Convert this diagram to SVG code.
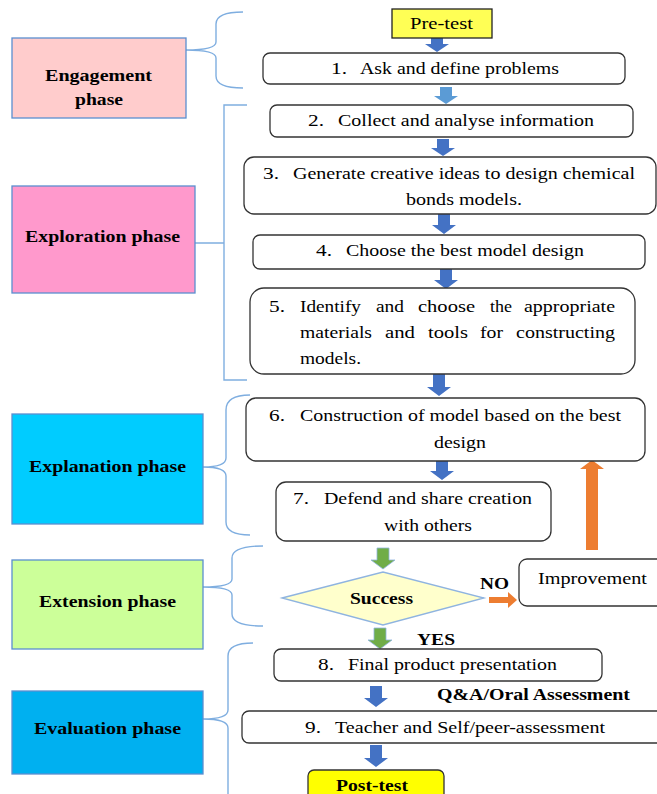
<svg xmlns="http://www.w3.org/2000/svg" width="657" height="794" viewBox="0 0 657 794">
<defs>
<style>
text{font-family:"Liberation Serif","Times New Roman","DejaVu Serif",serif;font-size:17px;fill:#000}
.b{font-weight:bold}
.box{fill:#fff;stroke:#333;stroke-width:1.3}
.ph{stroke:#5B8FD0;stroke-width:1.3}
.br{fill:none;stroke:#7FAEE0;stroke-width:1.4}
.ad{fill:#4472C4}
.al{fill:#5B9BD5}
.ag{fill:#70AD47;stroke:#8FB4E0;stroke-width:0.8}
.ao{fill:#ED7D31}
</style>
</defs>
<rect width="657" height="794" fill="#fff"/>

<g id="connectors">
<path class="ad" d="M431,38 H443 V44 H449 L437,52 L425,44 H431 Z"/>
<path class="al" d="M440,87 H452 V96 H458 L446,104 L434,96 H440 Z"/>
<path class="ad" d="M437,139 H449 V148 H455 L443,156 L431,148 H437 Z"/>
<path class="ad" d="M438,214 H450 V225 H456 L444,234 L432,225 H438 Z"/>
<path class="ad" d="M440,269 H452 V280 H458 L446,289 L434,280 H440 Z"/>
<path class="ad" d="M433,374 H445 V387 H451 L439,396 L427,387 H433 Z"/>
<path class="ad" d="M436,461 H448 V471 H454 L442,480 L430,471 H436 Z"/>
<path class="ag" d="M377,548 H389 V560 H395 L383,569 L371,560 H377 Z"/>
<path class="ag" d="M374,628 H386 V640 H392 L380,649 L368,640 H374 Z"/>
<path class="ad" d="M370,686 H382 V698 H388 L376,707 L364,698 H370 Z"/>
<path class="ad" d="M370,745 H382 V758 H388 L376,767 L364,758 H370 Z"/>
<path class="ao" d="M586,550 V469 H580 L592,460 L604,469 H598 V550 Z"/>
<path class="ao" d="M489,597 H508 V592 L517,600 L508,608 V603 H489 Z"/>
<path class="br" d="M243,12 Q216,12 216,24 L216,42 Q216,50 186,50 Q216,50 216,58 L216,76 Q216,88 243,88"/>
<path class="br" d="M247,105 L224,105 L224,380 L247,380 M195,243 L224,243"/>
<path class="br" d="M250,395 Q226,395 226,410 L226,458 Q226,467 203,467 Q226,467 226,476 L226,522 Q226,535 250,535"/>
<path class="br" d="M263,546 Q232,546 232,558 L232,579 Q232,587 203,587 Q232,587 232,595 L232,614 Q232,626 263,626"/>
<path class="br" d="M253,643 Q228,643 228,656 L228,710 Q228,719 203,719 Q228,719 228,728 L228,794"/>
</g>

<g id="engagement">
<rect class="ph" x="12" y="38" width="174" height="80" fill="#FFCCCC"/>
<text class="b" x="45" y="81" textLength="107" lengthAdjust="spacingAndGlyphs">Engagement</text>
<text class="b" x="75" y="105" textLength="48" lengthAdjust="spacingAndGlyphs">phase</text>
</g>
<g id="exploration">
<rect class="ph" x="12" y="186" width="183" height="107" fill="#FF99CC"/>
<text class="b" x="25" y="242" textLength="155" lengthAdjust="spacingAndGlyphs">Exploration phase</text>
</g>
<g id="explanation">
<rect class="ph" x="12" y="414" width="191" height="110" fill="#00CCFF"/>
<text class="b" x="29" y="472" textLength="157" lengthAdjust="spacingAndGlyphs">Explanation phase</text>
</g>
<g id="extension">
<rect class="ph" x="12" y="560" width="191" height="89" fill="#CCFF99"/>
<text class="b" x="39" y="607" textLength="137" lengthAdjust="spacingAndGlyphs">Extension phase</text>
</g>
<g id="evaluation">
<rect class="ph" x="12" y="691" width="191" height="83" fill="#00B0F0"/>
<text class="b" x="34" y="734" textLength="147" lengthAdjust="spacingAndGlyphs">Evaluation phase</text>
</g>

<g id="pretest">
<rect x="392" y="9" width="100" height="29" fill="#FFFF55" stroke="#222" stroke-width="1.3"/>
<text x="410" y="29" textLength="63" lengthAdjust="spacingAndGlyphs">Pre-test</text>
</g>
<g id="step1">
<rect class="box" x="263" y="53" width="362" height="31" rx="7"/>
<text x="331" y="74" textLength="16" lengthAdjust="spacingAndGlyphs">1.</text>
<text x="360" y="74" textLength="199" lengthAdjust="spacingAndGlyphs">Ask and define problems</text>
</g>
<g id="step2">
<rect class="box" x="270" y="105" width="363" height="32" rx="7"/>
<text x="308" y="126" textLength="16" lengthAdjust="spacingAndGlyphs">2.</text>
<text x="338" y="126" textLength="256" lengthAdjust="spacingAndGlyphs">Collect and analyse information</text>
</g>
<g id="step3">
<rect class="box" x="244" y="157" width="412" height="57" rx="10"/>
<text x="263" y="179" textLength="16" lengthAdjust="spacingAndGlyphs">3.</text>
<text x="293" y="179" textLength="342" lengthAdjust="spacingAndGlyphs">Generate creative ideas to design chemical</text>
<text x="406" y="205" textLength="116" lengthAdjust="spacingAndGlyphs">bonds models.</text>
</g>
<g id="step4">
<rect class="box" x="253" y="235" width="392" height="34" rx="7"/>
<text x="316" y="256" textLength="16" lengthAdjust="spacingAndGlyphs">4.</text>
<text x="346" y="256" textLength="238" lengthAdjust="spacingAndGlyphs">Choose the best model design</text>
</g>
<g id="step5">
<rect class="box" x="250" y="288" width="385" height="86" rx="14"/>
<text x="269" y="312" textLength="16" lengthAdjust="spacingAndGlyphs">5.</text>
<text x="300" y="312" textLength="61" lengthAdjust="spacingAndGlyphs">Identify</text>
<text x="376" y="312" textLength="28" lengthAdjust="spacingAndGlyphs">and</text>
<text x="418" y="312" textLength="57" lengthAdjust="spacingAndGlyphs">choose</text>
<text x="490" y="312" textLength="22" lengthAdjust="spacingAndGlyphs">the</text>
<text x="524" y="312" textLength="91" lengthAdjust="spacingAndGlyphs">appropriate</text>
<text x="300" y="338" textLength="72" lengthAdjust="spacingAndGlyphs">materials</text>
<text x="385" y="338" textLength="30" lengthAdjust="spacingAndGlyphs">and</text>
<text x="428" y="338" textLength="40" lengthAdjust="spacingAndGlyphs">tools</text>
<text x="480" y="338" textLength="23" lengthAdjust="spacingAndGlyphs">for</text>
<text x="516" y="338" textLength="99" lengthAdjust="spacingAndGlyphs">constructing</text>
<text x="300" y="364" textLength="61" lengthAdjust="spacingAndGlyphs">models.</text>
</g>
<g id="step6">
<rect class="box" x="246" y="398" width="399" height="63" rx="10"/>
<text x="269" y="421" textLength="16" lengthAdjust="spacingAndGlyphs">6.</text>
<text x="300" y="421" textLength="321" lengthAdjust="spacingAndGlyphs">Construction of model based on the best</text>
<text x="434" y="448" textLength="52" lengthAdjust="spacingAndGlyphs">design</text>
</g>
<g id="step7">
<rect class="box" x="276" y="482" width="275" height="59" rx="10"/>
<text x="293" y="504" textLength="16" lengthAdjust="spacingAndGlyphs">7.</text>
<text x="324" y="504" textLength="208" lengthAdjust="spacingAndGlyphs">Defend and share creation</text>
<text x="384" y="531" textLength="88" lengthAdjust="spacingAndGlyphs">with others</text>
</g>
<g id="decision">
<path d="M282,598 L383,572 L484,598 L383,625 Z" fill="#FFFFCC" stroke="#8FB4E0" stroke-width="1.3"/>
<text class="b" x="350" y="604" textLength="63" lengthAdjust="spacingAndGlyphs">Success</text>
<text class="b" x="480" y="589" textLength="29" lengthAdjust="spacingAndGlyphs">NO</text>
<text class="b" x="417" y="645" textLength="38" lengthAdjust="spacingAndGlyphs">YES</text>
</g>
<g id="improvement">
<rect class="box" x="519" y="559" width="160" height="47" rx="8"/>
<text x="538" y="584" textLength="109" lengthAdjust="spacingAndGlyphs">Improvement</text>
</g>
<g id="step8">
<rect class="box" x="274" y="649" width="328" height="32" rx="7"/>
<text x="318" y="670" textLength="16" lengthAdjust="spacingAndGlyphs">8.</text>
<text x="348" y="670" textLength="209" lengthAdjust="spacingAndGlyphs">Final product presentation</text>
</g>
<text class="b" x="437" y="700" textLength="193" lengthAdjust="spacingAndGlyphs">Q&amp;A/Oral Assessment</text>
<g id="step9">
<rect class="box" x="242" y="711" width="440" height="32" rx="7"/>
<text x="305" y="733" textLength="16" lengthAdjust="spacingAndGlyphs">9.</text>
<text x="335" y="733" textLength="270" lengthAdjust="spacingAndGlyphs">Teacher and Self/peer-assessment</text>
</g>
<g id="posttest">
<rect x="308" y="770" width="136" height="40" rx="6" fill="#FFFF00" stroke="#333" stroke-width="1.3"/>
<text class="b" x="336" y="791" textLength="72" lengthAdjust="spacingAndGlyphs">Post-test</text>
</g>
</svg>
